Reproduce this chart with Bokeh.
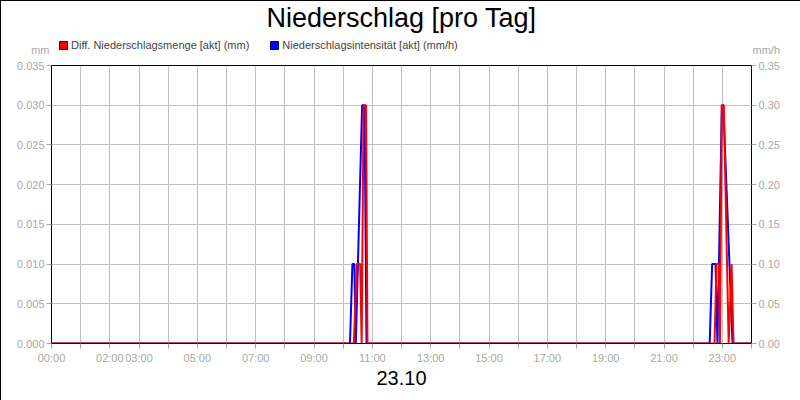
from bokeh.plotting import figure
from bokeh.layouts import column
from bokeh.models import (ColumnDataSource, LinearAxis, Range1d, FixedTicker,
                          NumeralTickFormatter, Legend, LegendItem, Label)
from bokeh.embed import file_html
from bokeh.resources import INLINE

# ---- data ----
title_text = "Niederschlag [pro Tag]"
date_label = "23.10"
red_name = "Diff. Niederschlagsmenge [akt] (mm)"
blue_name = "Niederschlagsintensität [akt] (mm/h)"
left_unit = "mm"
right_unit = "mm/h"

red_times = ["00:00", "10:22", "10:28", "10:35", "10:38", "10:42", "10:47", "10:50",
             "22:44", "22:48", "22:53", "22:55", "22:59", "23:03", "23:13", "23:19",
             "23:23", "24:00"]
red_mm = [0, 0, 0.01, 0.01, 0, 0.03, 0.03, 0,
          0, 0.01, 0.01, 0, 0.03, 0.03, 0, 0.01,
          0, 0]

blue_times = ["00:00", "10:14", "10:19", "10:23", "10:26", "10:39", "10:44", "10:48",
              "22:34", "22:39", "22:46", "22:50", "22:59", "23:02", "23:21", "24:00"]
blue_mmh = [0, 0, 0.10, 0.10, 0, 0.30, 0.30, 0,
            0, 0.10, 0.10, 0, 0.30, 0.30, 0, 0]

hour_ticks = list(range(25))
tick_labels = {0: "00:00", 2: "02:00", 3: "03:00", 5: "05:00", 7: "07:00",
               9: "09:00", 11: "11:00", 13: "13:00", 15: "15:00", 17: "17:00",
               19: "19:00", 21: "21:00", 23: "23:00"}
left_ticks = [0, 0.005, 0.01, 0.015, 0.02, 0.025, 0.03, 0.035]
right_ticks = [0, 0.05, 0.10, 0.15, 0.20, 0.25, 0.30, 0.35]


def to_hours(t):
    hh, mm = t.split(":")
    return int(hh) + int(mm) / 60.0


red_src = ColumnDataSource(dict(x=[to_hours(t) for t in red_times], y=red_mm))
blue_src = ColumnDataSource(dict(x=[to_hours(t) for t in blue_times], y=blue_mmh))

FONT = "Liberation Sans"
GRAY = "#a8a8a8"
HEAD_H = 54
UNIT_ROW = 48
NAN = float("nan")

# ---------------- header (title, legend, units) ----------------
h = figure(width=800, height=HEAD_H, output_backend="svg", toolbar_location=None,
           x_range=Range1d(50, 750), y_range=Range1d(HEAD_H, 0),
           x_axis_type=None, y_axis_type=None,
           min_border_left=50, min_border_right=50, min_border_top=0,
           min_border_bottom=0, title=None)
h.outline_line_color = None
h.background_fill_color = "white"
h.border_fill_color = "white"

h.add_layout(Label(x=400, y=16.5, text=title_text, text_align="center",
                   text_baseline="middle", text_font=FONT,
                   text_font_size="27px", text_color="black"))

swatch = ColumnDataSource(dict(l=[NAN], r=[NAN], b=[NAN], t=[NAN]))
r_sw = h.quad(left="l", right="r", bottom="b", top="t", source=swatch,
              fill_color="#ff0000", line_color="#500000", line_width=1)
b_sw = h.quad(left="l", right="r", bottom="b", top="t", source=swatch,
              fill_color="#0000ff", line_color="#000050", line_width=1)

legend = Legend(items=[LegendItem(label=red_name, renderers=[r_sw]),
                       LegendItem(label=blue_name, renderers=[b_sw])],
                orientation="horizontal", location=(7, 4),
                glyph_width=10, glyph_height=10, label_standoff=3,
                spacing=20, padding=0, margin=0, border_line_color=None,
                background_fill_alpha=0, label_text_font=FONT,
                label_text_font_size="11px", label_height=13)
h.add_layout(legend, "center")

# unit captions as single tick labels of label-only axes in the header
for side, unit, standoff in (("left", left_unit, 2), ("right", right_unit, 1)):
    ua = LinearAxis(ticker=FixedTicker(ticks=[UNIT_ROW]),
                    major_label_overrides={UNIT_ROW: unit})
    ua.axis_line_color = None
    ua.major_tick_line_color = None
    ua.minor_tick_line_color = None
    ua.major_tick_out = 0
    ua.major_tick_in = 0
    ua.major_label_standoff = standoff
    ua.major_label_text_color = GRAY
    ua.major_label_text_font = FONT
    ua.major_label_text_font_size = "11px"
    h.add_layout(ua, side)

# ---------------- main chart ----------------
p = figure(width=800, height=400 - HEAD_H, output_backend="svg",
           toolbar_location=None,
           x_range=Range1d(0, 24), y_range=Range1d(0, 0.035),
           min_border_left=50, min_border_right=50, min_border_top=64 - HEAD_H,
           min_border_bottom=58, title=None)
p.extra_y_ranges = {"right": Range1d(0, 0.35)}

p.background_fill_color = "white"
p.border_fill_color = "white"
p.outline_line_color = "black"
p.outline_line_width = 1

xa = p.xaxis[0]
xa.ticker = FixedTicker(ticks=hour_ticks)
xa.major_label_overrides = {hh: tick_labels.get(hh, "") for hh in hour_ticks}
ya = p.yaxis[0]
ya.ticker = FixedTicker(ticks=left_ticks)
ya.formatter = NumeralTickFormatter(format="0.000")

ra = LinearAxis(y_range_name="right", ticker=FixedTicker(ticks=right_ticks),
                formatter=NumeralTickFormatter(format="0.00"))
p.add_layout(ra, "right")

for ax in (xa, ya, ra):
    ax.axis_line_color = "black"
    ax.major_tick_line_color = GRAY
    ax.major_tick_out = 5
    ax.major_tick_in = 0
    ax.minor_tick_line_color = None
    ax.major_label_text_color = GRAY
    ax.major_label_text_font = FONT
    ax.major_label_text_font_size = "11px"
    ax.major_label_standoff = 2

xa.major_label_standoff = 3
xa.axis_label = date_label
xa.axis_label_text_font = FONT
xa.axis_label_text_font_size = "20px"
xa.axis_label_text_font_style = "normal"
xa.axis_label_text_color = "black"
xa.axis_label_standoff = 4

p.xgrid.ticker = FixedTicker(ticks=hour_ticks)
p.ygrid.ticker = FixedTicker(ticks=left_ticks)
for g in (p.xgrid, p.ygrid):
    g.grid_line_color = "#c0c0c0"
    g.grid_line_width = 1

p.line("x", "y", source=blue_src, y_range_name="right", line_color="#0000ff",
       line_width=2)
p.line("x", "y", source=red_src, line_color="#ff0000", line_width=2)

page = column(h, p, spacing=0,
              styles={"border": "1px solid black", "box-sizing": "border-box"})

open("out.html", "w").write(file_html(page, INLINE))
